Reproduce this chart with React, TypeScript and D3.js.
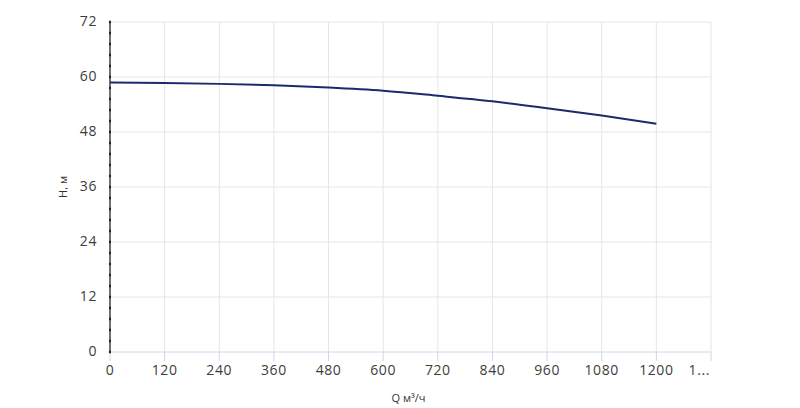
import React from "react";
import * as d3 from "d3";

// flow rate, m³/h
const flow = [0, 120, 240, 360, 480, 600, 720, 840, 960, 1080, 1200];
// head, m
const head = [58.8, 58.7, 58.5, 58.2, 57.7, 57.0, 55.9, 54.7, 53.2, 51.6, 49.8];

const xTicks = [0, 120, 240, 360, 480, 600, 720, 840, 960, 1080, 1200, 1320];
const xTickLabels = ["0", "120", "240", "360", "480", "600", "720", "840", "960", "1080", "1200", "1..."];
const yTicks = [0, 12, 24, 36, 48, 60, 72];

const W = 800;
const H = 408;
const margin = { top: 22, right: 89, bottom: 56, left: 110 };
const FONT = "'Open Sans', 'DejaVu Sans', sans-serif";

/**
 * pump curve chart
 */
export default function App() {
  const x = d3
    .scaleLinear()
    .domain([0, 1320])
    .range([margin.left, W - margin.right]);
  const y = d3
    .scaleLinear()
    .domain([0, 72])
    .range([H - margin.bottom, margin.top]);

  const line = d3
    .line<number>()
    .x((d, i) => x(flow[i]))
    .y((d) => y(d))
    .curve(d3.curveMonotoneX);

  // small minor ticks along the y axis
  const minor = d3.range(0, 72.001, 2.4);

  return (
    <svg
      width={W}
      height={H}
      style={{ position: "absolute", left: 0, top: 0, background: "#fff" }}
      fontFamily={FONT}
    >
      {/* horizontal grid */}
      {yTicks
        .filter((t) => t > 0)
        .map((t) => (
          <line
            key={"hg" + t}
            x1={x(0)}
            x2={x(1320)}
            y1={y(t)}
            y2={y(t)}
            stroke="#e6e6e6"
          />
        ))}
      {/* vertical grid */}
      {xTicks
        .filter((t) => t > 0)
        .map((t) => (
          <line
            key={"vg" + t}
            x1={x(t)}
            x2={x(t)}
            y1={y(72)}
            y2={y(0)}
            stroke="#e6e6e6"
          />
        ))}
      {/* x axis */}
      <line x1={x(0)} x2={x(1320)} y1={y(0)} y2={y(0)} stroke="#ccd6eb" />
      {xTicks.map((t, i) => {
        // the last label is cut off at the plot edge
        const last = i === xTicks.length - 1;
        return (
          <g key={"xt" + t}>
            <line x1={x(t)} x2={x(t)} y1={y(0)} y2={y(0) + 9} stroke="#ccd6eb" />
            <text
              x={last ? x(t) - 1 : x(t)}
              y={y(0) + 23}
              textAnchor={last ? "end" : "middle"}
              fontSize={14}
              fill="#3c3c3c"
              letterSpacing={0.6}
            >
              {xTickLabels[i]}
            </text>
          </g>
        );
      })}
      {/* y axis */}
      <line x1={x(0)} x2={x(0)} y1={y(0)} y2={y(72)} stroke="#707070" strokeWidth={2} />
      {minor.map((t) => (
        <line
          key={"mt" + t}
          x1={x(0) - 1}
          x2={x(0) + 1}
          y1={y(t)}
          y2={y(t)}
          stroke="#222"
          strokeWidth={2.5}
        />
      ))}
      {yTicks.map((t) => (
        <text
          key={"yl" + t}
          x={x(0) - 13}
          y={y(t) + 4}
          textAnchor="end"
          fontSize={14}
          fill="#3c3c3c"
          letterSpacing={0.6}
        >
          {t}
        </text>
      ))}
      {/* series */}
      <path d={line(head) ?? ""} fill="none" stroke="#1b2a6b" strokeWidth={2} />
      {/* axis titles */}
      <text
        transform={`translate(67,${(y(0) + y(72)) / 2}) rotate(-90)`}
        textAnchor="middle"
        fontSize={11}
        fill="#333"
      >
        H, м
      </text>
      <text x={x(660) - 2} y={402} textAnchor="middle" fontSize={11} fill="#333">
        Q м³/ч
      </text>
    </svg>
  );
}
